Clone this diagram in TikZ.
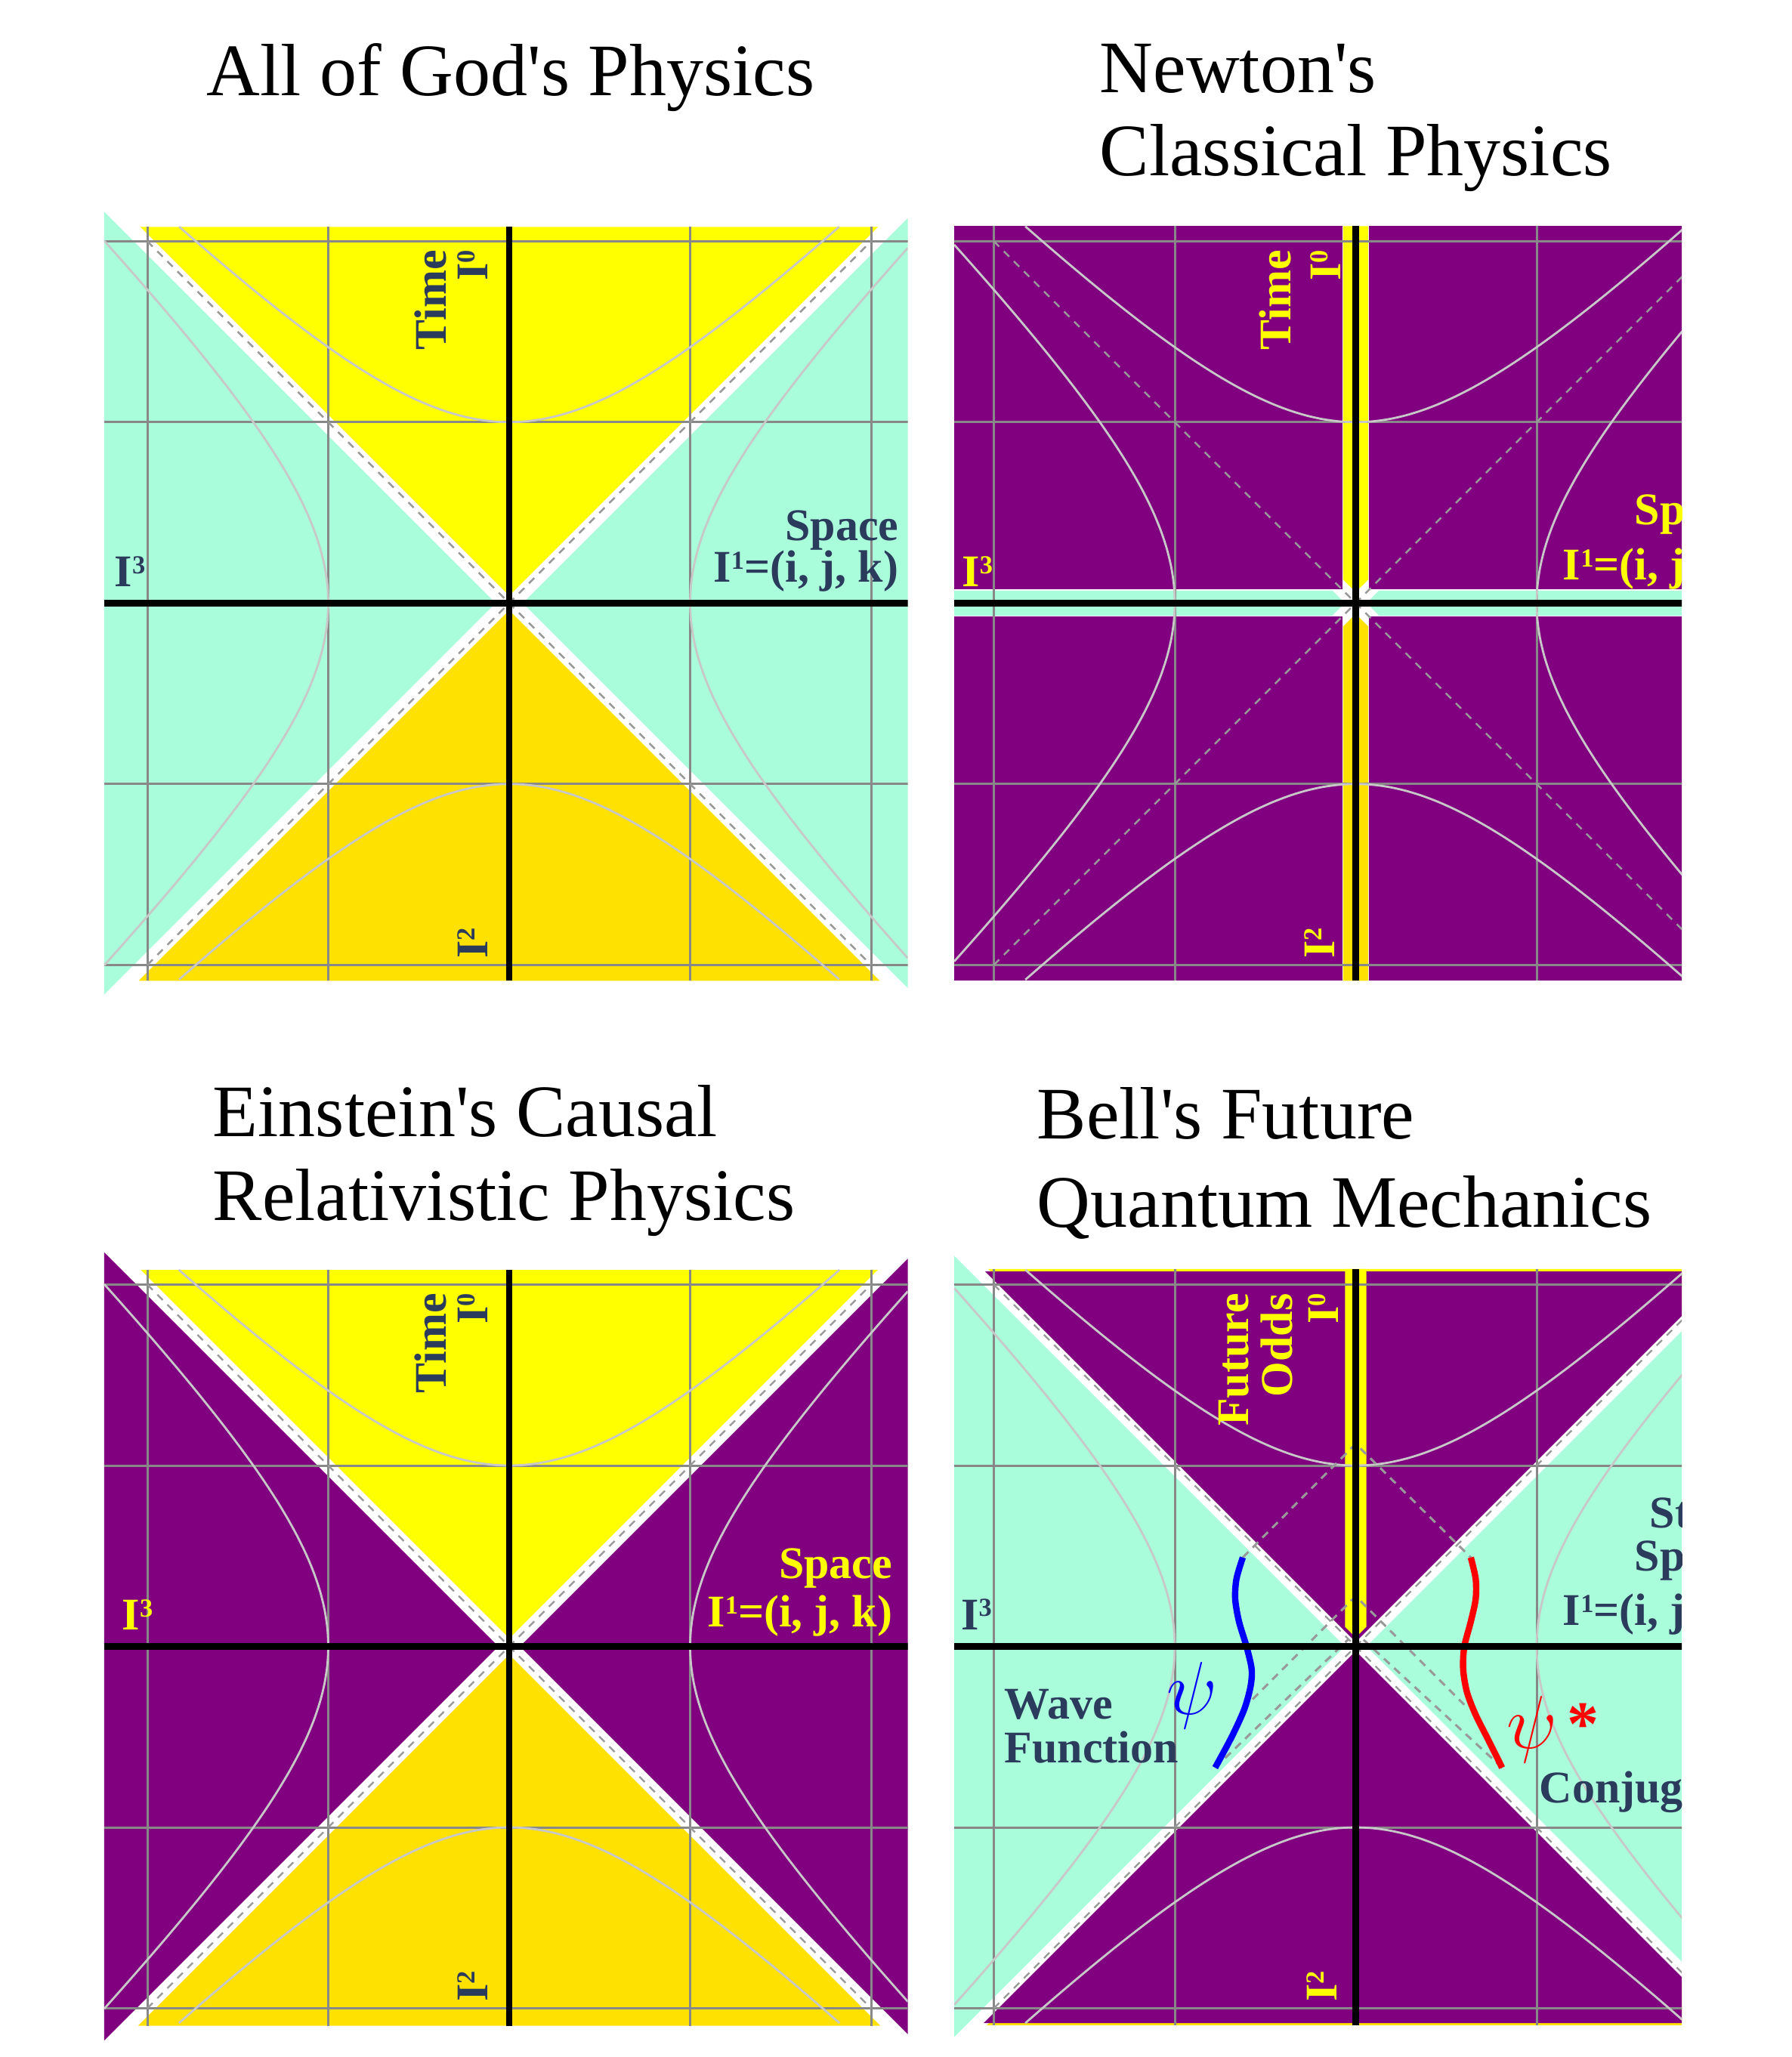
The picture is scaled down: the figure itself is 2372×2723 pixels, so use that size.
\documentclass[tikz,border=0pt]{standalone}
\usepackage{fontspec}
\newfontfamily\pf{Liberation Serif}
\definecolor{cyanc}{HTML}{AAFDDB}
\definecolor{yelc}{HTML}{FFFF00}
\definecolor{goldc}{HTML}{FFE100}
\definecolor{purc}{HTML}{800080}
\definecolor{gridc}{HTML}{888888}
\definecolor{hypc}{HTML}{C8C8C8}
\definecolor{dashc}{HTML}{999999}
\definecolor{navyc}{HTML}{2B3B5C}
\definecolor{bluec}{HTML}{0000FF}
\definecolor{redc}{HTML}{FF0000}
\newcommand\supn[1]{\raisebox{4.3pt}{\fontsize{8.6pt}{8.6pt}\selectfont #1}}
\newcommand\mygrid[4]{\foreach \g in {-2,-1,1,2}{\draw[gridl] (\g,#3) -- (\g,#4);\draw[gridl] (#1,\g) -- (#2,\g);}}
\newcommand\myhyp[3]{%
  \draw[hyp] plot[domain=-#1:#1,samples=41,smooth] (\x,{sqrt(1+\x*\x)});
  \draw[hyp] plot[domain=-#1:#1,samples=41,smooth] (\x,{-sqrt(1+\x*\x)});
  \draw[hyp] plot[domain=-#2:#2,samples=41,smooth] ({-sqrt(1+\x*\x)},\x);
  \draw[hyp] plot[domain=-#3:#3,samples=41,smooth] ({sqrt(1+\x*\x)},\x);}
\newcommand\mydiag{\draw[lcone] (-2,-2) -- (2,2); \draw[lcone] (-2,2) -- (2,-2);}
\newcommand\myaxes[4]{\draw[axisl] (0,#3) -- (0,#4); \draw[axisl] (#1,0) -- (#2,0);}
\tikzset{
  gridl/.style={draw=gridc, line width=0.75pt},
  hyp/.style={draw=hypc, line width=0.7pt},
  lcone/.style={draw=dashc, line width=0.6pt, dash pattern=on 2.5pt off 2.2pt},
  xdash/.style={draw=dashc, line width=0.75pt, dash pattern=on 2.6pt off 2pt},
  axisl/.style={draw=black, line width=2.2pt},
  lab/.style={inner sep=0pt, font=\pf\bfseries\fontsize{15pt}{15pt}\selectfont},
  vlab/.style={lab, rotate=90, anchor=base east},
  vlabw/.style={lab, rotate=90, anchor=base west},
  llab/.style={lab, anchor=base west},
  rlab/.style={lab, anchor=base east},
  ttl/.style={inner sep=0pt, anchor=base west, font=\pf\fontsize{24.5pt}{24.5pt}\selectfont},
  pscope/.style={x=59.875pt, y=59.875pt}
}
\begin{document}
\begin{tikzpicture}[x=0.25pt,y=-0.25pt]
\useasboundingbox (0,0) rectangle (2372,2723);
\fill[white] (0,0) rectangle (2372,2723);

% ---------- titles ----------
\node[ttl] (title1) at (273,126) {All of God's Physics};
\node[ttl] (title2a) at (1455,122) {Newton's};
\node[ttl] (title2b) at (1455,232) {Classical Physics};
\node[ttl] (title3a) at (281,1504) {Einstein's Causal};
\node[ttl] (title3b) at (281,1615) {Relativistic Physics};
\node[ttl] (title4a) at (1372,1507) {Bell's Future};
\node[ttl] (title4b) at (1372,1624) {Quantum Mechanics};

% ---------- panel 1 : All of God's Physics ----------
\begin{scope}[shift={(674,798.3)}, pscope]
  \begin{scope}
    \clip (-2.238,-2.3) rectangle (2.203,2.3);
    \fill[cyanc] (-0.075,0) -- (-2.238,2.163) -- (-2.238,-2.163) -- cycle;
    \fill[cyanc] (0.075,0) -- (2.238,2.163) -- (2.25,2.163) -- (2.25,-2.163) -- (2.238,-2.163) -- cycle;
    \fill[yelc] (0,0.04) -- (-2.039,2.079) -- (2.039,2.079) -- cycle;
    \fill[goldc] (0,-0.04) -- (-2.048,-2.088) -- (2.048,-2.088) -- cycle;
    \mygrid{-2.238}{2.203}{-2.088}{2.079}
    \myhyp{1.824}{2.002}{1.963}
    \mydiag
    \myaxes{-2.238}{2.203}{-2.088}{2.079}
  \end{scope}
  \node[vlab, text=navyc] (p1time) at (-0.349,1.954) {Time};
  \node[vlab, text=navyc] (p1izero) at (-0.117,1.954) {I\supn{0}};
  \node[vlabw, text=navyc] (p1itwo) at (-0.117,-1.967) {I\supn{2}};
  \node[llab, text=navyc] (p1ithree) at (-2.184,0.092) {I\supn{3}};
  \node[rlab, text=navyc] (p1space) at (2.155,0.347) {Space};
  \node[rlab, text=navyc] (p1ione) at (2.155,0.117) {I\supn{1}=(i, j, k)};
\end{scope}

% ---------- panel 2 : Newton ----------
\begin{scope}[shift={(1794.5,798.3)}, pscope]
  \begin{scope}
    \clip (-2.219,-2.3) rectangle (1.802,2.3);
    \fill[purc] (-2.219,0.075) rectangle (-0.075,2.083);
    \fill[purc] (0.075,0.075) rectangle (1.9,2.083);
    \fill[purc] (-2.219,-0.075) rectangle (-0.075,-2.088);
    \fill[purc] (0.075,-0.075) rectangle (1.9,-2.088);
    \fill[yelc] (-0.069,0.129) -- (0,0.06) -- (0.069,0.129) -- (0.069,2.083) -- (-0.069,2.083) -- cycle;
    \fill[goldc] (-0.069,-0.129) -- (0,-0.06) -- (0.069,-0.129) -- (0.069,-2.088) -- (-0.069,-2.088) -- cycle;
    \fill[cyanc] (-0.06,0) -- (-0.129,0.069) -- (-2.219,0.069) -- (-2.219,-0.069) -- (-0.129,-0.069) -- cycle;
    \fill[cyanc] (0.06,0) -- (0.129,0.069) -- (1.9,0.069) -- (1.9,-0.069) -- (0.129,-0.069) -- cycle;
    \mygrid{-2.219}{1.9}{-2.088}{2.083}
    \myhyp{1.826}{1.981}{1.981}
    \mydiag
    \myaxes{-2.219}{1.9}{-2.088}{2.083}
    \node[vlab, text=yelc] (p2time) at (-0.361,1.954) {Time};
    \node[vlab, text=yelc] (p2izero) at (-0.084,1.954) {I\supn{0}};
    \node[vlabw, text=yelc] (p2itwo) at (-0.115,-1.967) {I\supn{2}};
    \node[llab, text=yelc] (p2ithree) at (-2.179,0.092) {I\supn{3}};
    \node[rlab, text=yelc] (p2space) at (2.171,0.434) {Space};
    \node[rlab, text=yelc] (p2ione) at (2.171,0.129) {I\supn{1}=(i, j, k)};
  \end{scope}
\end{scope}

% ---------- panel 3 : Einstein ----------
\begin{scope}[shift={(674,2179.5)}, pscope]
  \begin{scope}
    \clip (-2.238,-2.3) rectangle (2.203,2.3);
    \fill[purc] (-0.06,0) -- (-2.238,2.178) -- (-2.238,-2.178) -- cycle;
    \fill[purc] (0.06,0) -- (2.24,2.18) -- (2.25,2.18) -- (2.25,-2.18) -- (2.24,-2.18) -- cycle;
    \fill[yelc] (0,0.045) -- (-2.036,2.081) -- (2.036,2.081) -- cycle;
    \fill[goldc] (0,-0.045) -- (-2.051,-2.096) -- (2.051,-2.096) -- cycle;
    \mygrid{-2.238}{2.203}{-2.096}{2.081}
    \myhyp{1.826}{2.002}{1.963}
    \mydiag
    \myaxes{-2.238}{2.203}{-2.096}{2.081}
  \end{scope}
  \node[vlab, text=navyc] (p3time) at (-0.349,1.954) {Time};
  \node[vlab, text=navyc] (p3izero) at (-0.117,1.954) {I\supn{0}};
  \node[vlabw, text=navyc] (p3itwo) at (-0.117,-1.967) {I\supn{2}};
  \node[llab, text=yelc] (p3ithree) at (-2.142,0.092) {I\supn{3}};
  \node[rlab, text=yelc] (p3space) at (2.121,0.376) {Space};
  \node[rlab, text=yelc] (p3ione) at (2.121,0.108) {I\supn{1}=(i, j, k)};
\end{scope}

% ---------- panel 4 : Bell ----------
\begin{scope}[shift={(1794.5,2179.5)}, pscope]
  \begin{scope}
    \clip (-2.219,-2.3) rectangle (1.802,2.3);
    \fill[cyanc] (-0.06,0) -- (-2.219,2.159) -- (-2.219,-2.159) -- cycle;
    \fill[cyanc] (0.06,0) -- (2.229,2.169) -- (2.229,-2.169) -- cycle;
    \fill[yelc] (0,0.055) -- (-2.031,2.086) -- (2.031,2.086) -- cycle;
    \fill[purc] (0,0.025) -- (-2.048,2.073) -- (2.048,2.073) -- cycle;
    \fill[goldc] (0,-0.055) -- (-2.039,-2.094) -- (2.039,-2.094) -- cycle;
    \fill[purc] (0,-0.025) -- (-2.057,-2.082) -- (2.057,-2.082) -- cycle;
    \fill[yelc] (-0.059,0.109) -- (0,0.05) -- (0.059,0.109) -- (0.059,2.086) -- (-0.059,2.086) -- cycle;
    \mygrid{-2.219}{1.9}{-2.094}{2.086}
    \myhyp{1.826}{1.981}{1.981}
    \mydiag
    \draw[xdash] (-0.624,0.492) -- (0,1.12) -- (0.636,0.492);
    \draw[xdash] (-0.57,-0.292) -- (0,0.278) -- (0.6,-0.322);
    \draw[xdash] (-0.777,-0.67) -- (-0.04,0.04);
    \draw[xdash] (0.809,-0.67) -- (0.04,0.04);
    \draw[draw=bluec, line width=2.1pt] plot[smooth] coordinates {(-0.624,0.492) (-0.659,0.374) (-0.666,0.262) (-0.645,0.137) (-0.603,-0.002) (-0.575,-0.127) (-0.582,-0.225) (-0.617,-0.350) (-0.687,-0.503) (-0.777,-0.670)};
    \draw[draw=redc, line width=2.1pt] plot[smooth] coordinates {(0.636,0.492) (0.663,0.374) (0.663,0.262) (0.636,0.137) (0.600,-0.002) (0.594,-0.127) (0.615,-0.253) (0.663,-0.378) (0.733,-0.517) (0.809,-0.670)};
    \myaxes{-2.219}{1.9}{-2.094}{2.086}
    \node[vlab, text=yelc] (p4future) at (-0.591,1.954) {Future};
    \node[vlab, text=yelc] (p4odds) at (-0.351,1.954) {Odds};
    \node[vlab, text=yelc] (p4izero) at (-0.095,1.954) {I\supn{0}};
    \node[vlabw, text=yelc] (p4itwo) at (-0.104,-1.967) {I\supn{2}};
    \node[llab, text=navyc] (p4ithree) at (-2.184,0.094) {I\supn{3}};
    \node[rlab, text=navyc] (p4state) at (2.171,0.656) {State};
    \node[rlab, text=navyc] (p4space) at (2.171,0.418) {Space};
    \node[rlab, text=navyc] (p4ione) at (2.171,0.116) {I\supn{1}=(i, j, k)};
    \node[llab, text=navyc] (p4wave) at (-1.944,-0.399) {Wave};
    \node[llab, text=navyc] (p4func) at (-1.944,-0.641) {Function};
    \node[llab, text=navyc] (p4conj) at (1.013,-0.866) {Conjugate};
    \node[inner sep=0pt, text=bluec, font=\fontsize{27pt}{27pt}\selectfont] (p4psi) at (-0.905,-0.27) {$\psi$};
    \node[inner sep=0pt, text=redc, font=\fontsize{29pt}{29pt}\selectfont] (p4psistar) at (0.975,-0.46) {$\psi$};
    \node[inner sep=0pt, text=redc, font=\pf\bfseries\fontsize{21pt}{21pt}\selectfont] (p4star) at (1.255,-0.43) {*};
  \end{scope}
\end{scope}
\end{tikzpicture}
\end{document}
